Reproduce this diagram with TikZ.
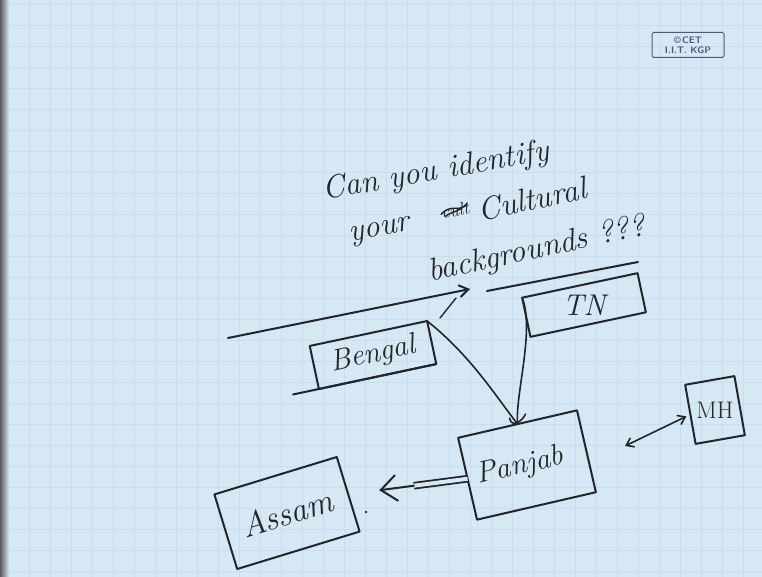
\documentclass[tikz,border=0pt]{standalone}
\usetikzlibrary{arrows.meta,calc}
\definecolor{paper}{HTML}{D6E8F4}
\definecolor{gridc}{HTML}{CADDEC}
\definecolor{inkc}{HTML}{22252A}
\definecolor{cetc}{HTML}{4E5A78}
\begin{document}
\begin{tikzpicture}[x=1pt,y=-1pt,
  ink/.style={draw=inkc, line width=2pt, line cap=round, line join=round},
  hand/.style={text=inkc, font=\fontsize{32}{36}\selectfont\itshape, inner sep=0pt},
  statebox/.style={ink, inner sep=0pt, outer sep=0pt, anchor=center, text=inkc,
                   font=\fontsize{30}{34}\selectfont\itshape},
]
\fill[paper] (0,0) rectangle (762,577);
\useasboundingbox (0,0) rectangle (762,577);
\foreach \x in {8,29,...,762} \draw[gridc, line width=0.5pt] (\x,0) -- (\x,577);
\foreach \y in {4,25,...,577} \draw[gridc, line width=0.5pt] (0,\y) -- (762,\y);
\fill[left color=black!65, right color=paper] (0,0) rectangle (9,577);

% CET logo
\node[draw=cetc, line width=1pt, rounded corners=1.5pt, text=cetc,
      font=\sffamily\bfseries\fontsize{9.5}{9.5}\selectfont, align=center,
      inner sep=1pt, minimum width=72, minimum height=25] (cet) at (688,45)
      {\textcopyright\,CET\\I.I.T. KGP};

% question
\node[hand, rotate=10] (q1) at (436,172) {Can you identify};
\node[hand, rotate=10] (q2) at (380,232) {your};
\node[hand, rotate=10, font=\fontsize{18}{20}\selectfont\itshape] (q2x) at (455,210) {cult};
\draw[ink, line width=1.4pt] ($(q2x.west)+(0,2)$) .. controls +(10,-12) and +(-6,10) .. ($(q2x.east)+(-2,-4)$)
      .. controls +(-10,10) and +(8,-6) .. ($(q2x.west)+(4,4)$);
\node[hand, rotate=12] (q3) at (532,199) {Cultural};
\node[hand, rotate=12] (q4) at (537,250) {backgrounds ???};

% boxes
\node[statebox, rotate=12, minimum width=120, minimum height=44] (bengal) at (373,355) {Bengal};
\node[statebox, rotate=12, minimum width=118, minimum height=40] (tn) at (584,305) {\rotatebox{-12}{TN}};
\node[statebox, rotate=13, minimum width=122, minimum height=84] (panjab) at (527,465) {\hspace*{-14pt}Panjab};
\node[statebox, rotate=17, minimum width=128, minimum height=78,
      font=\fontsize{34}{38}\selectfont\itshape] (assam) at (287,513) {Assam};
\node[statebox, rotate=10, minimum width=50, minimum height=60,
      font=\fontsize{24}{26}\selectfont] (mh) at (715,410) {\rotatebox{-10}{MH}};

% extra strokes
\coordinate (lstart) at (228,338);
\coordinate (lend) at (470,289);
\draw[ink, -{Straight Barb[length=9pt,width=12pt]}] (lstart) -- (lend);
\coordinate (tnl) at (487,291);
\coordinate (tnr) at (638,262);
\draw[ink] (tnl) -- (tnr);
\draw[ink] ($(bengal.south west)!-0.22!(bengal.south east)$) -- (bengal.south east);
\coordinate (sl1) at (440,318);
\coordinate (sl2) at (456,298);
\draw[ink, line width=1.4pt] (sl1) -- (sl2);

% connectors to Panjab
\draw[ink, line width=1.6pt] (bengal.north east) .. controls (470,355) and (495,395) .. (panjab.north);
\draw[ink, line width=1.6pt] (tn.north west) .. controls (535,330) and (515,395) .. (panjab.north);
\draw[ink, line width=1.6pt] ($(panjab.north)+(-8,-6)$) .. controls +(2,10) and +(-4,8) .. ($(panjab.north)+(8,-10)$);

% Panjab -> Assam (double shaft, big open head)
\draw[draw=inkc, line width=1.8pt, double=paper, double distance=4pt, line cap=butt]
      (panjab.west) -- ($(panjab.west)!0.45!(assam.east)$);
\draw[ink, -{Straight Barb[length=16pt,width=26pt]}]
      ($(panjab.west)!0.45!(assam.east)$) -- ($(panjab.west)!0.74!(assam.east)$);
\fill[inkc] (366,512) circle (1.4pt);

% arrow to MH
\coordinate (mhl) at (625,446);
\draw[ink, line width=1.6pt, {Straight Barb[length=7pt,width=10pt]}-{Straight Barb[length=7pt,width=10pt]}] (mhl) -- ($(mh.west)+(-4,2)$);
\end{tikzpicture}
\end{document}
